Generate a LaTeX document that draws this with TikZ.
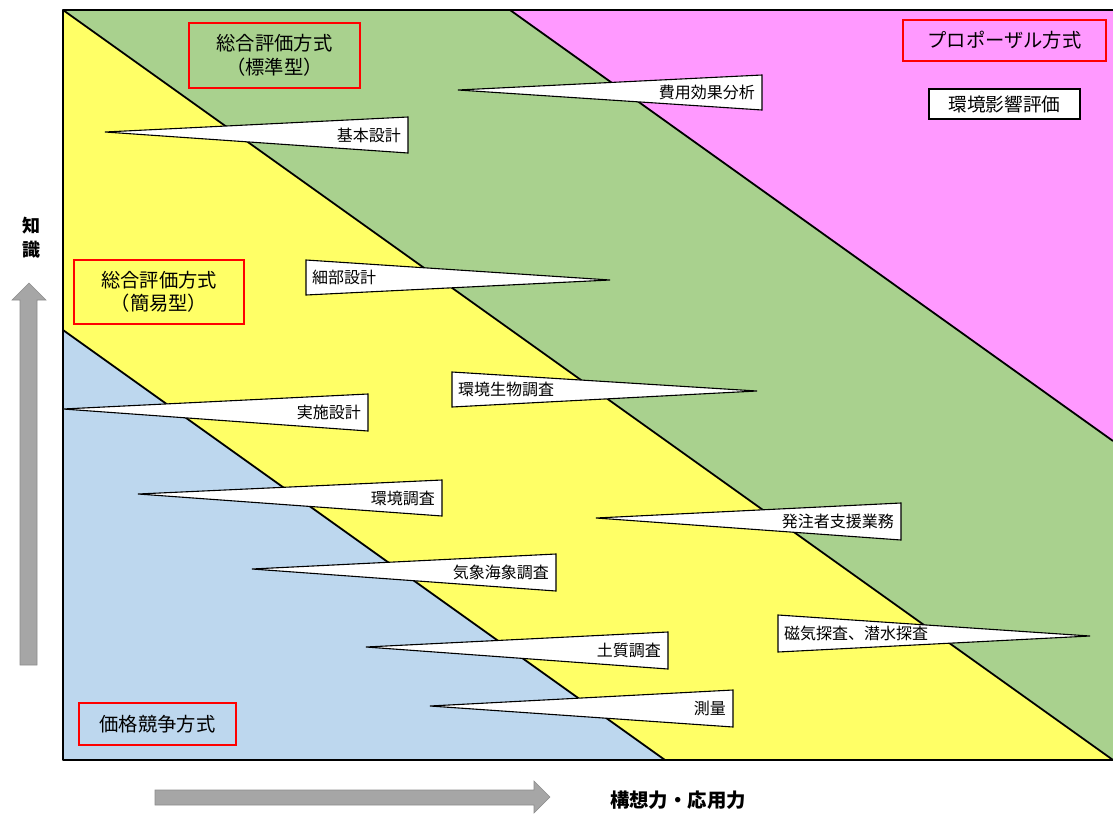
\documentclass[tikz,border=0pt]{standalone}
\usepackage{fontspec}
\newfontfamily\jp{Noto Sans CJK JP}
\definecolor{cgreen}{HTML}{A9D18E}
\definecolor{cyellow}{HTML}{FFFF66}
\definecolor{cblue}{HTML}{BDD7EE}
\definecolor{cmag}{HTML}{FF99FF}
\definecolor{cgray}{HTML}{A6A6A6}
\definecolor{cgrayd}{HTML}{8C8C8C}
\definecolor{cred}{HTML}{FF0000}
\tikzset{
  region/.style={draw=black, line width=1.8pt, line join=round},
  wedge/.style={draw=black, fill=white, line width=1.1pt, line join=miter},
  wtext/.style={inner sep=0pt, font=\jp\fontsize{16}{18}\selectfont},
  redbox/.style={draw=cred, line width=1.8pt, align=center, font=\jp\fontsize{19.3}{23.5}\selectfont},
  grayarrow/.style={fill=cgray, draw=cgrayd, line width=0.6pt},
  axislabel/.style={font=\jp\bfseries\fontsize{18}{24}\selectfont, inner sep=0pt}
}
% left-tip wedge: tip x, tip y, right x, top y, bottom y, text, name
\newcommand{\wedgeLeft}[7]{%
  \draw[wedge] (#1,#2) -- (#3,#4) -- (#3,#5) -- cycle;
  \node[wtext, anchor=east] (#7) at ({#3-7},{(#4+#5)/2}) {#6};}
% right-tip wedge: left x, top y, bottom y, tip x, tip y, text, name
\newcommand{\wedgeRight}[7]{%
  \draw[wedge] (#1,#2) -- (#4,#5) -- (#1,#3) -- cycle;
  \node[wtext, anchor=west] (#7) at ({#1+6},{(#2+#3)/2}) {#6};}
\begin{document}
\begin{tikzpicture}[x=1pt,y=-1pt]
\useasboundingbox (0,0) rectangle (1113,814);
% regions
\fill[cmag] (510,10) -- (1113,10) -- (1113,441) -- cycle;
\fill[cgreen] (63,10) -- (510,10) -- (1113,441) -- (1113,760) -- cycle;
\fill[cyellow] (63,10) -- (1113,760) -- (665,760) -- (63,330) -- cycle;
\fill[cblue] (63,330) -- (665,760) -- (63,760) -- cycle;
\draw[region] (510,10) -- (1113,441);
\draw[region] (63,10) -- (1113,760);
\draw[region] (63,330) -- (665,760);
\draw[region, line width=2.2pt] (1113,10) -- (63,10) -- (63,760) -- (1113,760);
% wedges
\wedgeLeft{458}{90}{762}{75}{110}{費用効果分析}{w1}
\wedgeLeft{105}{132}{408}{117}{153}{基本設計}{w2}
\wedgeRight{306}{260}{295}{610}{280}{細部設計}{w3}
\wedgeRight{452}{372}{407}{757}{391}{環境生物調査}{w4}
\wedgeLeft{63}{409}{368}{394}{431}{実施設計}{w5}
\wedgeLeft{138}{494}{442}{480}{516}{環境調査}{w6}
\wedgeLeft{596}{518}{901}{503}{540}{発注者支援業務}{w7}
\wedgeLeft{252}{569}{556}{554}{591}{気象海象調査}{w8}
\wedgeRight{778}{615}{652}{1090}{636}{磁気探査、潜水探査}{w9}
\wedgeLeft{366}{647}{668}{632}{669}{土質調査}{w10}
\wedgeLeft{430}{706}{733}{690}{727}{測量}{w11}
% red label boxes
\node[redbox, minimum width=171pt, minimum height=65pt] (std) at (274.5,55.5) {総合評価方式\\（標準型）};
\node[redbox, minimum width=170pt, minimum height=64pt] (simp) at (159,292) {総合評価方式\\（簡易型）};
\node[redbox, minimum width=157pt, minimum height=42pt] (price) at (157.5,724) {価格競争方式};
\node[redbox, minimum width=203pt, minimum height=41pt] (prop) at (1004.5,40.5) {プロポーザル方式};
\node[draw=black, fill=white, line width=1.1pt, minimum width=151pt, minimum height=30pt, inner sep=0pt, font=\jp\fontsize{18.7}{21}\selectfont] (eia) at (1004.5,104) {環境影響評価};
% axes arrows
\draw[grayarrow] (20,665) -- (20,300) -- (12,300) -- (29,283) -- (46,300) -- (37,300) -- (37,665) -- cycle;
\draw[grayarrow] (155,790) -- (534,790) -- (534,781) -- (550,797) -- (534,813) -- (534,805) -- (155,805) -- cycle;
\node[axislabel, align=center] (ky) at (31,238) {知\\識};
\node[axislabel, font=\jp\bfseries\fontsize{19.4}{24}\selectfont] (kx) at (678,800) {構想力・応用力};
\end{tikzpicture}
\end{document}
